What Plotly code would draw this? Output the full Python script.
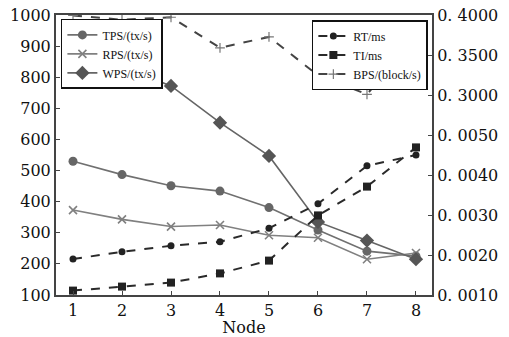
import plotly.graph_objects as go

nodes = [1, 2, 3, 4, 5, 6, 7, 8]
tps = [530, 487, 451, 434, 381, 309, 241, 225]
rps = [373, 343, 320, 325, 292, 284, 215, 235]
wps = [925, 834, 772, 654, 547, 335, 275, 215]
rt = [0.00190, 0.00208, 0.00223, 0.00233, 0.00267, 0.00328, 0.00423, 0.00450]
ti = [0.00111, 0.00121, 0.00131, 0.00154, 0.00186, 0.00299, 0.00371, 0.00469]
bps = [0.3995, 0.3940, 0.3972, 0.3590, 0.3726, 0.3246, 0.3009, 0.3726]

left_ticks = [100, 200, 300, 400, 500, 600, 700, 800, 900, 1000]
low_ticks = [0.001, 0.002, 0.003, 0.004, 0.005]
low_text = ["0. 0010", "0. 0020", "0. 0030", "0. 0040", "0. 0050"]
high_ticks = [0.30, 0.35, 0.40]
high_text = ["0. 3000", "0. 3500", "0. 4000"]

SERIF = "DejaVu Serif"
fig = go.Figure()

fig.add_trace(go.Scatter(x=nodes, y=tps, name="TPS/(tx/s)", mode="lines+markers",
                         line=dict(color="#707070", width=1.6),
                         marker=dict(symbol="circle", size=9, color="#666666"),
                         legend="legend"))
fig.add_trace(go.Scatter(x=nodes, y=rps, name="RPS/(tx/s)", mode="lines+markers",
                         line=dict(color="#808080", width=1.6),
                         marker=dict(symbol="x-thin", size=8, color="#808080",
                                     line=dict(width=1.6, color="#808080")),
                         legend="legend"))
fig.add_trace(go.Scatter(x=nodes, y=wps, name="WPS/(tx/s)", mode="lines+markers",
                         line=dict(color="#656565", width=1.6),
                         marker=dict(symbol="diamond", size=11, color="#555555"),
                         legend="legend"))

fig.add_trace(go.Scatter(x=nodes, y=rt, name="RT/ms", mode="lines+markers", yaxis="y2",
                         line=dict(color="#2a2a2a", width=2, dash="dash"),
                         marker=dict(symbol="circle", size=7, color="#222222"),
                         legend="legend2"))
fig.add_trace(go.Scatter(x=nodes, y=ti, name="TI/ms", mode="lines+markers", yaxis="y2",
                         line=dict(color="#2a2a2a", width=2, dash="dash"),
                         marker=dict(symbol="square", size=8, color="#222222"),
                         legend="legend2"))
fig.add_trace(go.Scatter(x=nodes, y=bps, name="BPS/(block/s)", mode="lines+markers", yaxis="y3",
                         line=dict(color="#444444", width=2, dash="dash"),
                         marker=dict(symbol="cross-thin", size=7, color="#777777",
                                     line=dict(width=1.2, color="#777777")),
                         legend="legend2"))

axis_common = dict(showgrid=False, zeroline=False, showline=True, linecolor="#444444",
                   linewidth=2, ticks="inside", ticklen=4, tickcolor="#444444",
                   automargin=False)

legend_common = dict(bgcolor="white", bordercolor="#111111", borderwidth=1.5,
                     font=dict(family="Liberation Serif", size=12),
                     itemwidth=30, tracegroupgap=0)

fig.update_layout(
    width=509, height=337,
    margin=dict(l=56, r=77, t=15, b=42),
    paper_bgcolor="white", plot_bgcolor="white",
    font=dict(family=SERIF, color="#111111"),
    showlegend=True,
    xaxis=dict(range=[0.653, 8.327], tickvals=nodes, mirror=True,
               title=dict(text="Node", font=dict(family=SERIF, size=16), standoff=0),
               tickfont=dict(family=SERIF, size=16), **axis_common),
    yaxis=dict(range=[100, 1000], tickvals=left_ticks,
               tickfont=dict(family=SERIF, size=16), **axis_common),
    yaxis2=dict(range=[0.001, 0.008], tickvals=low_ticks, ticktext=low_text,
                overlaying="y", side="right", anchor="x",
                tickfont=dict(family=SERIF, size=16), **axis_common),
    yaxis3=dict(range=[0.05, 0.40], tickvals=high_ticks, ticktext=high_text,
                overlaying="y", side="right", anchor="x",
                tickfont=dict(family=SERIF, size=16), **axis_common),
    legend=dict(x=0.013, y=0.986, xanchor="left", yanchor="top", **legend_common),
    legend2=dict(x=0.989, y=0.982, xanchor="right", yanchor="top", **legend_common),
)

fig.write_html("out.html")
